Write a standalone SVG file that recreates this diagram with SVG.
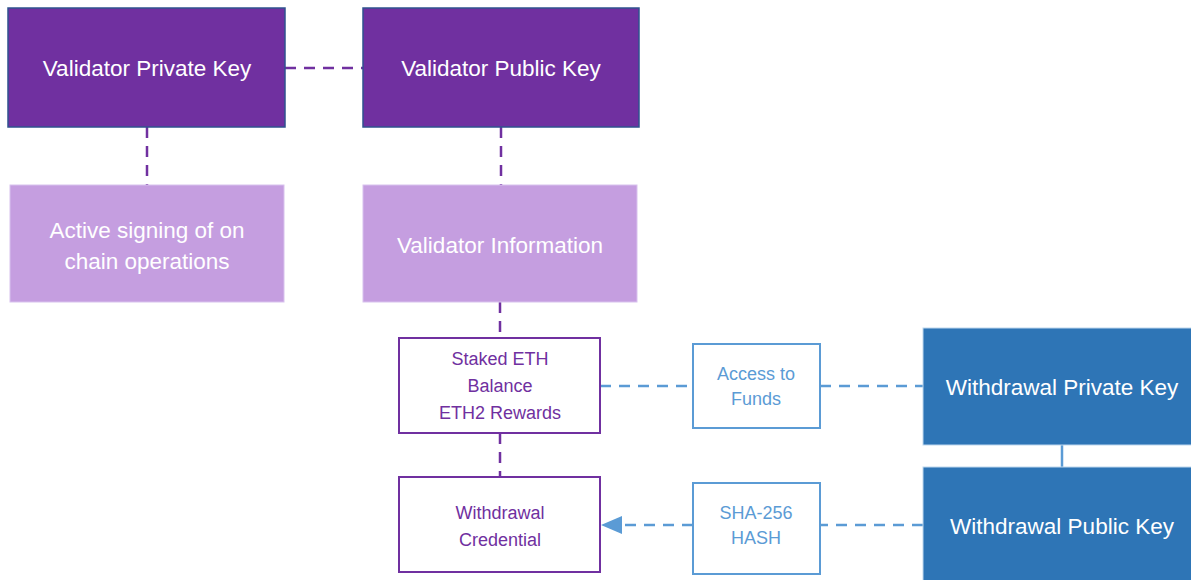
<svg xmlns="http://www.w3.org/2000/svg" width="1191" height="580" viewBox="0 0 1191 580">
<style>
text{font-family:"Liberation Sans",Arial,sans-serif;text-anchor:middle;dominant-baseline:central}
.dk{fill:#7030A0;stroke:#2F528F;stroke-width:1.5}
.lt{fill:#C59EE0;stroke:#D8C2EE;stroke-width:1}
.po{fill:#fff;stroke:#7030A0;stroke-width:2}
.bo{fill:#fff;stroke:#5B9BD5;stroke-width:2}
.bd{fill:#2E75B6;stroke:#BDD7EE;stroke-width:1}
.w{fill:#fff;font-size:22.5px}
.pt{fill:#7030A0;font-size:18px}
.bt{fill:#5B9BD5;font-size:18px}
.pl{stroke:#7030A0;stroke-width:2.5;stroke-dasharray:11 8;fill:none}
.bl{stroke:#5B9BD5;stroke-width:2.5;stroke-dasharray:11 8;fill:none}
</style>
<g id="connectors">
<line class="pl" x1="285" y1="68" x2="363" y2="68"/>
<line class="pl" x1="147" y1="127" x2="147" y2="185"/>
<line class="pl" x1="501" y1="127" x2="501" y2="185"/>
<line class="pl" x1="500" y1="302" x2="500" y2="338"/>
<line class="pl" x1="500" y1="433" x2="500" y2="477"/>
<line class="bl" x1="600" y1="386" x2="693" y2="386"/>
<line class="bl" x1="820" y1="386" x2="923" y2="386"/>
<line class="bl" x1="923" y1="525" x2="820" y2="525"/>
<line class="bl" x1="693" y1="525" x2="622" y2="525"/>
<path d="M622,516 L601,525 L622,534 Z" fill="#5B9BD5"/>
<line x1="1062" y1="445" x2="1062" y2="467" stroke="#5B9BD5" stroke-width="2.5"/>
</g>
<g id="validator-private-key"><rect class="dk" x="8" y="8" width="277" height="119"/><text class="w" x="147" y="68">Validator Private Key</text></g>
<g id="validator-public-key"><rect class="dk" x="363" y="8" width="276" height="119"/><text class="w" x="501" y="68">Validator Public Key</text></g>
<g id="active-signing"><rect class="lt" x="10" y="185" width="274" height="117"/><text class="w" x="147" y="230">Active signing of on</text><text class="w" x="147" y="261">chain operations</text></g>
<g id="validator-information"><rect class="lt" x="363" y="185" width="274" height="117"/><text class="w" x="500" y="245">Validator Information</text></g>
<g id="staked-eth"><rect class="po" x="399" y="338" width="201" height="95"/><text class="pt" x="500" y="359">Staked ETH</text><text class="pt" x="500" y="386">Balance</text><text class="pt" x="500" y="413">ETH2 Rewards</text></g>
<g id="withdrawal-credential"><rect class="po" x="399" y="477" width="201" height="95"/><text class="pt" x="500" y="513">Withdrawal</text><text class="pt" x="500" y="540">Credential</text></g>
<g id="access-to-funds"><rect class="bo" x="693" y="344" width="127" height="84"/><text class="bt" x="756" y="374">Access to</text><text class="bt" x="756" y="399">Funds</text></g>
<g id="sha-256-hash"><rect class="bo" x="693" y="483" width="127" height="91"/><text class="bt" x="756" y="513">SHA-256</text><text class="bt" x="756" y="538">HASH</text></g>
<g id="withdrawal-private-key"><rect class="bd" x="923" y="328" width="270" height="117"/><text class="w" x="1062" y="387">Withdrawal Private Key</text></g>
<g id="withdrawal-public-key"><rect class="bd" x="923" y="467" width="270" height="115"/><text class="w" x="1062" y="526">Withdrawal Public Key</text></g>
</svg>
